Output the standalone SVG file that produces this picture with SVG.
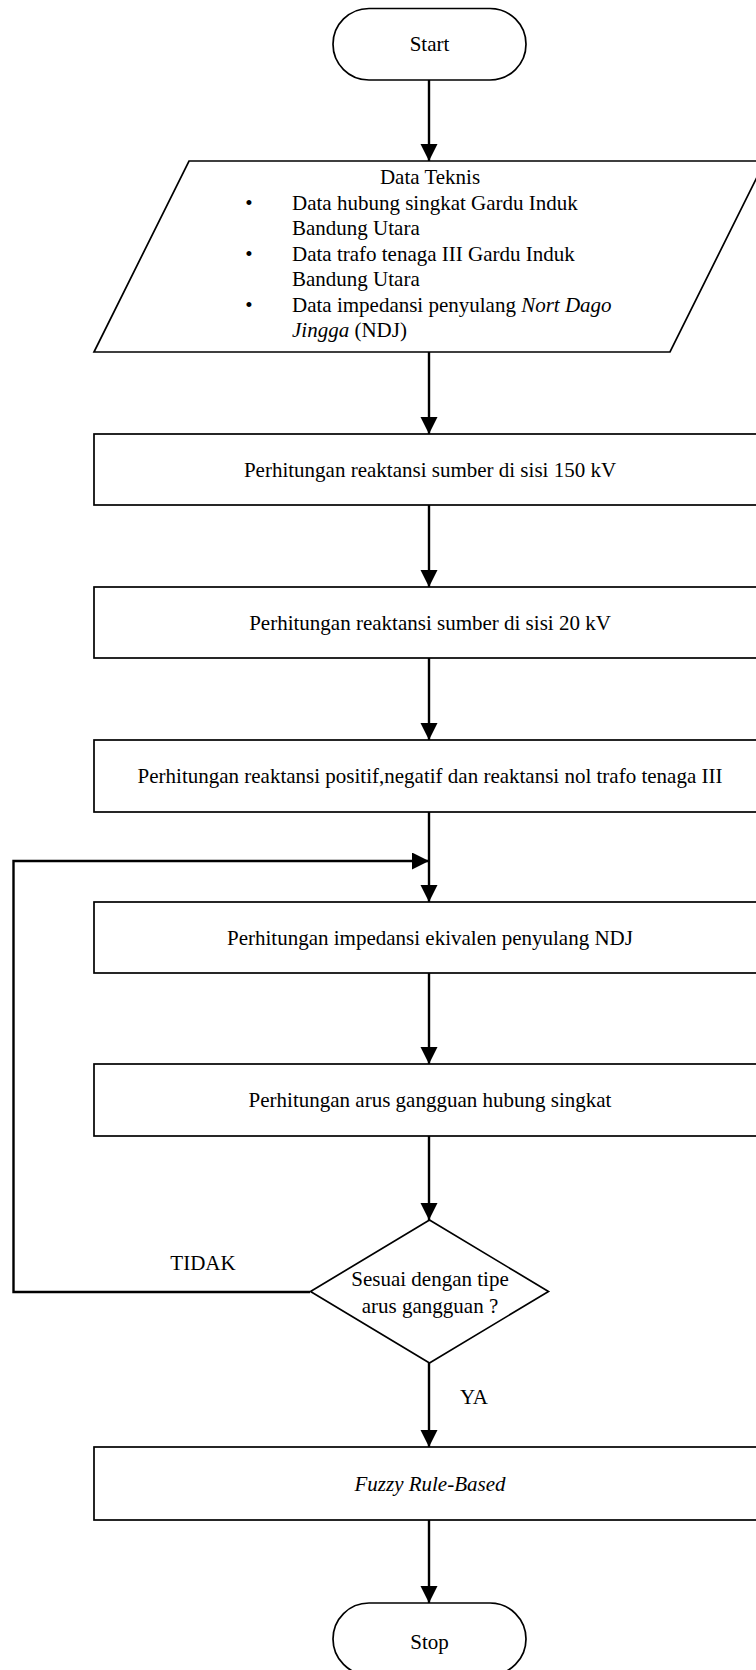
<svg xmlns="http://www.w3.org/2000/svg" width="756" height="1670" viewBox="0 0 756 1670">
<style>
.shape{fill:#fff;stroke:#000;stroke-width:1.7}
.conn{fill:none;stroke:#000;stroke-width:2.4}
text{font-family:"Liberation Serif","Times New Roman",serif;font-size:21px;fill:#000}
.c{text-anchor:middle}
.i{font-style:italic}
</style>
<defs>
<marker id="arr" markerUnits="userSpaceOnUse" markerWidth="18" markerHeight="18" refX="17" refY="8.5" orient="auto">
<path d="M0,0 L17,8.5 L0,17 z" fill="#000"/>
</marker>
</defs>
<rect width="756" height="1670" fill="#fff"/>
<g id="connectors">
<line class="conn" x1="429" y1="80" x2="429" y2="161" marker-end="url(#arr)"/>
<line class="conn" x1="429" y1="352" x2="429" y2="434" marker-end="url(#arr)"/>
<line class="conn" x1="429" y1="505" x2="429" y2="587" marker-end="url(#arr)"/>
<line class="conn" x1="429" y1="658" x2="429" y2="740" marker-end="url(#arr)"/>
<line class="conn" x1="429" y1="812" x2="429" y2="902" marker-end="url(#arr)"/>
<line class="conn" x1="429" y1="973" x2="429" y2="1064" marker-end="url(#arr)"/>
<line class="conn" x1="429" y1="1136" x2="429" y2="1220" marker-end="url(#arr)"/>
<line class="conn" x1="429" y1="1363" x2="429" y2="1447" marker-end="url(#arr)"/>
<line class="conn" x1="429" y1="1520" x2="429" y2="1603" marker-end="url(#arr)"/>
<polyline class="conn" points="310,1292 13.5,1292 13.5,861 429,861" marker-end="url(#arr)"/>
<text x="203" y="1270" class="c">TIDAK</text>
<text x="474" y="1404" class="c">YA</text>
</g>
<g id="start">
<rect class="shape" x="333" y="8.5" width="193" height="71.5" rx="36" ry="36"/>
<text x="429.5" y="51" class="c">Start</text>
</g>
<g id="data-teknis">
<polygon class="shape" points="189,161 765,161 670,352 94,352"/>
<text x="430" y="184" class="c">Data Teknis</text>
<text x="249" y="209.5" class="c">•</text>
<text x="292" y="209.5">Data hubung singkat Gardu Induk</text>
<text x="292" y="235">Bandung Utara</text>
<text x="249" y="260.5" class="c">•</text>
<text x="292" y="260.5">Data trafo tenaga III Gardu Induk</text>
<text x="292" y="286">Bandung Utara</text>
<text x="249" y="311.5" class="c">•</text>
<text x="292" y="311.5">Data impedansi penyulang <tspan class="i">Nort Dago</tspan></text>
<text x="292" y="337"><tspan class="i">Jingga</tspan> (NDJ)</text>
</g>
<g id="reaktansi-150">
<rect class="shape" x="94" y="434" width="670" height="71"/>
<text x="430" y="477" class="c">Perhitungan reaktansi sumber di sisi 150 kV</text>
</g>
<g id="reaktansi-20">
<rect class="shape" x="94" y="587" width="670" height="71"/>
<text x="430" y="630" class="c">Perhitungan reaktansi sumber di sisi 20 kV</text>
</g>
<g id="reaktansi-trafo">
<rect class="shape" x="94" y="740" width="670" height="72"/>
<text x="430" y="783" class="c">Perhitungan reaktansi positif,negatif dan reaktansi nol trafo tenaga III</text>
</g>
<g id="impedansi-ndj">
<rect class="shape" x="94" y="902" width="670" height="71"/>
<text x="430" y="945" class="c">Perhitungan impedansi ekivalen penyulang NDJ</text>
</g>
<g id="arus-gangguan">
<rect class="shape" x="94" y="1064" width="670" height="72"/>
<text x="430" y="1107" class="c">Perhitungan arus gangguan hubung singkat</text>
</g>
<g id="keputusan">
<polygon class="shape" points="429.5,1220 548.5,1291.5 429.5,1363 310.5,1291.5"/>
<text x="430" y="1286" class="c">Sesuai dengan tipe</text>
<text x="430" y="1313" class="c">arus gangguan ?</text>
</g>
<g id="fuzzy">
<rect class="shape" x="94" y="1447" width="670" height="73"/>
<text x="430" y="1491" class="c i">Fuzzy Rule-Based</text>
</g>
<g id="stop">
<rect class="shape" x="333" y="1603" width="193" height="72" rx="36" ry="36"/>
<text x="429.5" y="1649" class="c">Stop</text>
</g>
</svg>
